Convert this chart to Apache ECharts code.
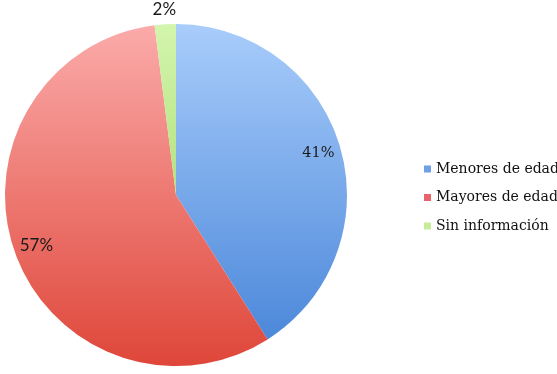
<!DOCTYPE html>
<html>
<head>
<meta charset="utf-8">
<script src="https://cdn.jsdelivr.net/npm/echarts@6/dist/echarts.min.js"></script>
<style>
  html, body { margin: 0; padding: 0; background: #ffffff; }
  #chart { width: 557px; height: 374px; }
</style>
</head>
<body>
<div id="chart"></div>
<script>
// Categories and shares (percent)
const categories = ['Menores de edad', 'Mayores de edad', 'Sin información'];
const shares = [41, 57, 2];

// Vertical gradient per slice: light at top, deeper at bottom
const topColors = ['#a9cdfb', '#fbabaa', '#d3f5ad'];
const bottomColors = ['#4c88da', '#df4639', '#b3e27f'];
const legendColors = ['#6f9fe6', '#e9646a', '#c6ec97'];
// Text style key per slice label
const labelStyles = ['serif', 'sans', 'sans'];

const CX = 176, CY = 195, R = 171;

function grad(i) {
  return new echarts.graphic.LinearGradient(0, 0, 0, 1, [
    { offset: 0, color: topColors[i] },
    { offset: 1, color: bottomColors[i] }
  ]);
}

const sliceData = categories.map((name, i) => ({
  name, value: shares[i], itemStyle: { color: grad(i) }
}));

const richStyles = {
  serif: { fontFamily: 'DejaVu Serif', fontSize: 14.5, color: '#1a1a1a' },
  sans: { fontFamily: 'Lato', fontSize: 17, color: '#1a1a1a' }
};
const fmt = p => '{' + labelStyles[p.dataIndex] + '|' + p.value + '%}';

// Labels for the two big slices sit on an invisible ring near the rim,
// the small slice's label sits just outside the circle.
const innerLabelData = categories.map((name, i) => ({
  name, value: shares[i], label: { show: i !== 2 }
}));
const outerLabelData = categories.map((name, i) => ({
  name, value: shares[i], label: { show: i === 2 }
}));

const chart = echarts.init(document.getElementById('chart'), null, { renderer: 'canvas' });
chart.setOption({
  backgroundColor: '#ffffff',
  animation: false,
  legend: {
    orient: 'vertical',
    left: 419,
    top: 156,
    itemWidth: 7,
    itemHeight: 7,
    itemGap: 12.5,
    icon: 'rect',
    selectedMode: false,
    textStyle: {
      fontFamily: 'DejaVu Serif',
      fontSize: 14,
      lineHeight: 16,
      color: '#111111'
    },
    data: categories.map((name, i) => ({ name, itemStyle: { color: legendColors[i] } }))
  },
  series: [
    {
      type: 'pie',
      center: [CX, CY],
      radius: [0, R],
      startAngle: 90,
      clockwise: true,
      label: { show: false },
      labelLine: { show: false },
      silent: true,
      data: sliceData
    },
    {
      type: 'pie',
      center: [CX, CY],
      radius: [R * 0.70, R],
      startAngle: 90,
      clockwise: true,
      silent: true,
      itemStyle: { color: 'rgba(0,0,0,0)' },
      label: { position: 'inside', formatter: fmt, rich: richStyles },
      labelLine: { show: false },
      data: innerLabelData
    },
    {
      type: 'pie',
      center: [CX, CY],
      radius: [R, R * 1.135],
      startAngle: 90,
      clockwise: true,
      silent: true,
      itemStyle: { color: 'rgba(0,0,0,0)' },
      label: { position: 'inside', formatter: fmt, rich: richStyles },
      labelLine: { show: false },
      data: outerLabelData
    }
  ]
});
</script>
</body>
</html>
